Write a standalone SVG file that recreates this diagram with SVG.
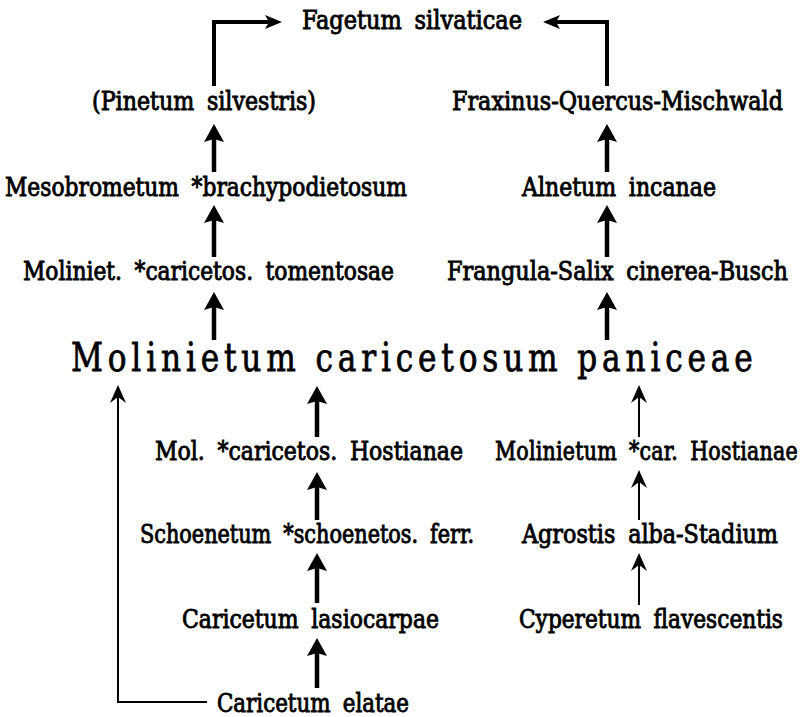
<svg xmlns="http://www.w3.org/2000/svg" width="806" height="717" viewBox="0 0 806 717">
<style>
  .t { font-family: 'DejaVu Serif Condensed', 'DejaVu Serif', 'Liberation Serif', serif; font-size: 26px; fill: #000; stroke: #000; stroke-width: 0.85px; word-spacing: 6px; }
  .big { font-family: 'DejaVu Serif', 'Liberation Serif', serif; font-size: 40px; fill: #000; stroke: #000; stroke-width: 0.8px; }
  .thick { fill: none; stroke: #000; stroke-width: 4.5; marker-end: url(#hThick); }
  .top { fill: none; stroke: #000; stroke-width: 4; stroke-linejoin: miter; marker-end: url(#hTop); }
  .thin { fill: none; stroke: #000; stroke-width: 2; marker-end: url(#hThin); }
</style>
<defs>
  <marker id="hThick" markerUnits="userSpaceOnUse" viewBox="0 0 18 20" refX="8" refY="10" markerWidth="18" markerHeight="20" orient="auto">
    <path d="M0,0 L18,10 L0,20 L3,10 Z" fill="#000"/>
  </marker>
  <marker id="hTop" markerUnits="userSpaceOnUse" viewBox="0 0 17 14" refX="7" refY="7" markerWidth="17" markerHeight="14" orient="auto">
    <path d="M0,0 L17,7 L0,14 L4,7 Z" fill="#000"/>
  </marker>
  <marker id="hThin" markerUnits="userSpaceOnUse" viewBox="0 0 18 16" refX="8" refY="8" markerWidth="18" markerHeight="16" orient="auto">
    <path d="M0,0 L18,8 L0,16 L6,8 Z" fill="#000"/>
  </marker>
</defs>

<g id="connectors">
  <path class="top" d="M214,86 V22 H272"/>
  <path class="top" d="M607,86 V22 H553"/>
  <path class="thick" d="M214,172 V134"/>
  <path class="thick" d="M214,257 V215"/>
  <path class="thick" d="M214,340 V302"/>
  <path class="thick" d="M607,172 V134"/>
  <path class="thick" d="M607,257 V215"/>
  <path class="thick" d="M607,340 V302"/>
  <path class="thick" d="M317,437 V396"/>
  <path class="thick" d="M317,520 V482"/>
  <path class="thick" d="M317,603 V563"/>
  <path class="thick" d="M317,688 V648"/>
  <path class="thin" d="M639,437 V395"/>
  <path class="thin" d="M639,520 V480"/>
  <path class="thin" d="M639,605 V563"/>
  <path class="thin" d="M207,702 H118 V395"/>
</g>

<g id="n-fagetum"><text class="t" x="302" y="29" textLength="220" lengthAdjust="spacingAndGlyphs">Fagetum silvaticae</text></g>
<g id="n-pinetum"><text class="t" x="92" y="110" textLength="224" lengthAdjust="spacingAndGlyphs">(Pinetum silvestris)</text></g>
<g id="n-fraxinus"><text class="t" x="452" y="110" textLength="331" lengthAdjust="spacingAndGlyphs">Fraxinus-Quercus-Mischwald</text></g>
<g id="n-mesobrometum"><text class="t" x="5" y="196" textLength="402" lengthAdjust="spacingAndGlyphs">Mesobrometum *brachypodietosum</text></g>
<g id="n-alnetum"><text class="t" x="522" y="196" textLength="194" lengthAdjust="spacingAndGlyphs">Alnetum incanae</text></g>
<g id="n-moliniet-tom"><text class="t" x="23" y="280" textLength="371" lengthAdjust="spacingAndGlyphs">Moliniet. *caricetos. tomentosae</text></g>
<g id="n-frangula"><text class="t" x="447" y="280" textLength="341" lengthAdjust="spacingAndGlyphs">Frangula-Salix cinerea-Busch</text></g>
<g id="n-molinietum-main"><text class="big" transform="translate(71,371) scale(0.78,1)" x="0" y="0" textLength="874" lengthAdjust="spacing">Molinietum caricetosum paniceae</text></g>
<g id="n-mol-hostianae"><text class="t" x="155" y="460" textLength="308" lengthAdjust="spacingAndGlyphs">Mol. *caricetos. Hostianae</text></g>
<g id="n-molinietum-car"><text class="t" transform="translate(495,460) scale(0.88,1)" x="0" y="0" textLength="344" lengthAdjust="spacing">Molinietum *car. Hostianae</text></g>
<g id="n-schoenetum"><text class="t" x="140" y="543" textLength="334" lengthAdjust="spacingAndGlyphs">Schoenetum *schoenetos. ferr.</text></g>
<g id="n-agrostis"><text class="t" x="522" y="543" textLength="256" lengthAdjust="spacingAndGlyphs">Agrostis alba-Stadium</text></g>
<g id="n-lasiocarpae"><text class="t" x="182" y="628" textLength="257" lengthAdjust="spacingAndGlyphs">Caricetum lasiocarpae</text></g>
<g id="n-cyperetum"><text class="t" x="519" y="628" textLength="264" lengthAdjust="spacingAndGlyphs">Cyperetum flavescentis</text></g>
<g id="n-elatae"><text class="t" x="217" y="712" textLength="192" lengthAdjust="spacingAndGlyphs">Caricetum elatae</text></g>
</svg>
